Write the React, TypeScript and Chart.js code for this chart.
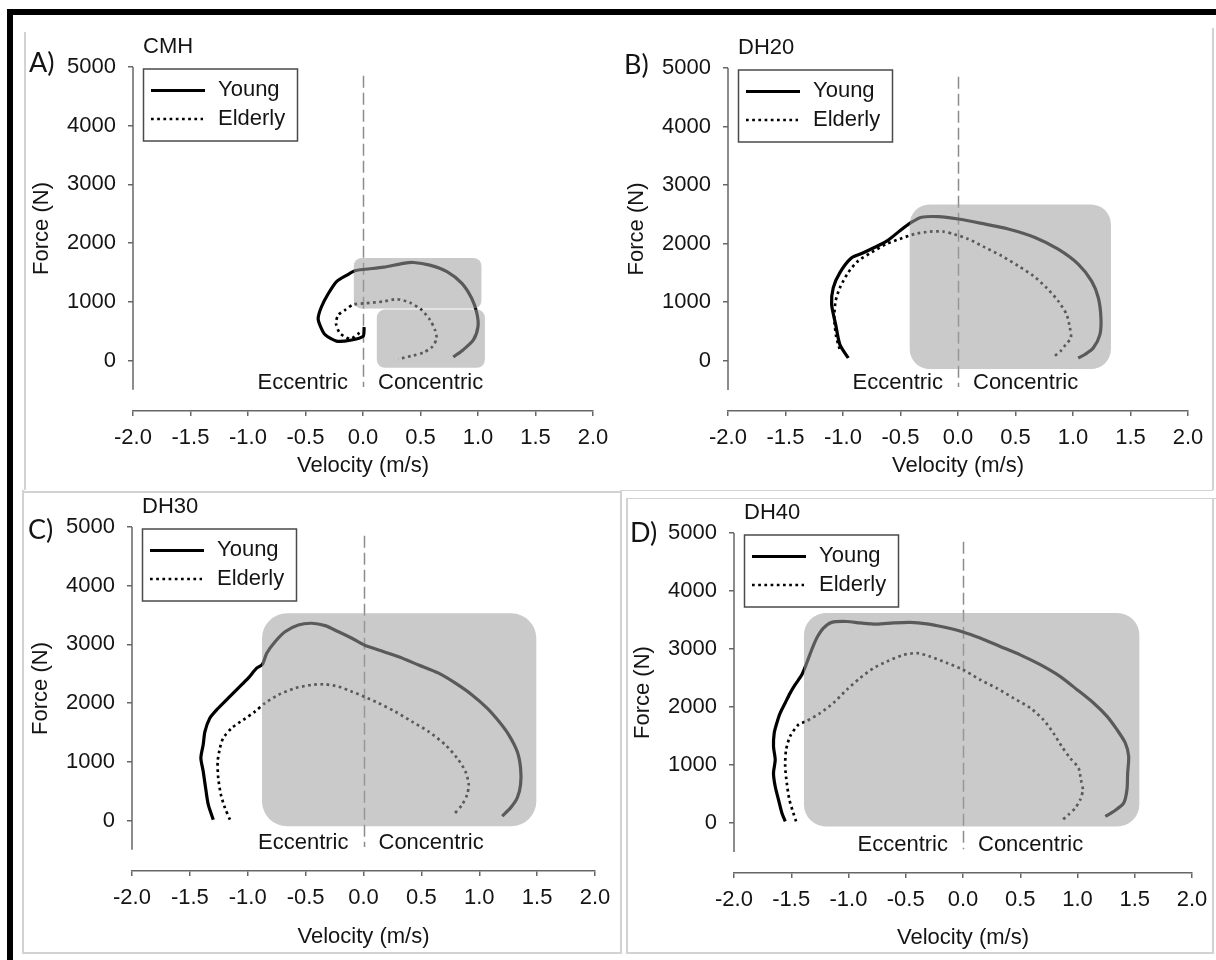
import React, { useEffect, useRef } from "react";
import { Chart, registerables } from "chart.js";

Chart.register(...registerables);

type Pt = { x: number; y: number };

// ---------- axes / labels ----------
const X_TICKS = [-2, -1.5, -1, -0.5, 0, 0.5, 1, 1.5, 2];
const Y_TICKS = [0, 1000, 2000, 3000, 4000, 5000];
const X_MIN = -2;
const X_MAX = 2;
const Y_MIN = -860;
const Y_MAX = 5000;
const Y_AXIS_LINE = [-500, 5000];
const ZERO_LINE = [-450, 4850];

const PANEL_LETTERS = ["A)", "B)", "C)", "D)"];
const PANEL_TITLES = ["CMH", "DH20", "DH30", "DH40"];
const SERIES_NAMES = ["Young", "Elderly"];
const PHASE_LABELS = ["Eccentric", "Concentric"];
const X_TITLE = "Velocity (m/s)";
const Y_TITLE = "Force (N)";

// ---------- data: velocity (m/s) / force (N) ----------
const CMH_YOUNG_V = [0.01, 0.0, -0.11, -0.23, -0.33, -0.37, -0.39, -0.36, -0.3, -0.23, -0.14, -0.07, 0.02, 0.18, 0.35, 0.44, 0.58, 0.73, 0.86, 0.945, 0.99, 1.0, 0.96, 0.87, 0.785];
const CMH_YOUNG_F = [570, 410, 345, 330, 440, 580, 720, 920, 1145, 1345, 1455, 1530, 1555, 1590, 1655, 1670, 1625, 1515, 1315, 1060, 805, 580, 350, 180, 60];
const CMH_ELDERLY_V = [-0.03, -0.11, -0.2, -0.235, -0.215, -0.157, -0.084, 0.017, 0.177, 0.293, 0.409, 0.51, 0.583, 0.626, 0.64, 0.606, 0.524, 0.437, 0.307];
const CMH_ELDERLY_F = [470, 370, 465, 635, 775, 860, 955, 975, 1005, 1045, 985, 860, 690, 520, 380, 240, 135, 85, 25];

const DH20_YOUNG_V = [-0.954, -1.027, -1.064, -1.099, -1.085, -1.027, -0.93, -0.838, -0.708, -0.607, -0.505, -0.403, -0.317, -0.172, 0.002, 0.205, 0.437, 0.669, 0.871, 1.045, 1.162, 1.22, 1.243, 1.234, 1.176, 1.103, 1.045];
const DH20_YOUNG_F = [45, 275, 620, 960, 1245, 1505, 1750, 1830, 1950, 2060, 2220, 2365, 2450, 2460, 2420, 2345, 2250, 2105, 1905, 1650, 1360, 1075, 730, 445, 215, 105, 45];
const DH20_ELDERLY_V = [-1.03, -1.06, -1.076, -1.064, -1.027, -0.955, -0.868, -0.752, -0.621, -0.505, -0.375, -0.245, -0.129, -0.027, 0.089, 0.234, 0.379, 0.523, 0.654, 0.77, 0.871, 0.944, 0.973, 0.982, 0.936, 0.895, 0.837];
const DH20_ELDERLY_F = [200, 420, 730, 1020, 1245, 1505, 1705, 1850, 1995, 2080, 2165, 2205, 2205, 2155, 2080, 1935, 1790, 1620, 1450, 1245, 1020, 790, 560, 390, 275, 170, 75];

const DH30_YOUNG_V = [-1.298, -1.341, -1.364, -1.385, -1.405, -1.385, -1.37, -1.327, -1.262, -1.169, -1.082, -0.996, -0.923, -0.874, -0.836, -0.764, -0.678, -0.563, -0.447, -0.332, -0.216, -0.1, 0.006, 0.13, 0.303, 0.476, 0.649, 0.794, 0.938, 1.068, 1.169, 1.255, 1.328, 1.357, 1.357, 1.328, 1.27, 1.198];
const DH30_YOUNG_F = [15, 270, 555, 840, 1065, 1290, 1515, 1745, 1900, 2085, 2255, 2425, 2595, 2660, 2850, 3045, 3215, 3330, 3360, 3320, 3215, 3105, 2990, 2905, 2790, 2650, 2510, 2340, 2140, 1915, 1690, 1460, 1175, 895, 610, 385, 215, 75];
const DH30_ELDERLY_V = [-1.154, -1.197, -1.232, -1.255, -1.26, -1.24, -1.212, -1.139, -1.039, -0.938, -0.851, -0.736, -0.591, -0.447, -0.332, -0.216, -0.1, 0.006, 0.13, 0.274, 0.419, 0.563, 0.707, 0.808, 0.88, 0.909, 0.895, 0.852, 0.779];
const DH30_ELDERLY_F = [15, 215, 440, 725, 1005, 1235, 1405, 1575, 1715, 1855, 2000, 2140, 2255, 2310, 2320, 2280, 2195, 2110, 2000, 1855, 1685, 1515, 1290, 1065, 840, 610, 440, 270, 100];

const DH40_YOUNG_V = [-1.552, -1.581, -1.611, -1.64, -1.655, -1.64, -1.655, -1.649, -1.626, -1.597, -1.553, -1.51, -1.466, -1.408, -1.365, -1.321, -1.277, -1.219, -1.146, -1.015, -0.899, -0.753, -0.608, -0.462, -0.316, -0.17, 0.0, 0.15, 0.325, 0.5, 0.675, 0.85, 0.996, 1.14, 1.258, 1.345, 1.418, 1.447, 1.438, 1.432, 1.403, 1.315, 1.243];
const DH40_YOUNG_F = [30, 170, 400, 630, 860, 1090, 1320, 1550, 1725, 1895, 2070, 2240, 2385, 2555, 2760, 2990, 3190, 3360, 3460, 3475, 3450, 3430, 3450, 3460, 3435, 3380, 3295, 3190, 3045, 2900, 2730, 2525, 2300, 2070, 1840, 1610, 1380, 1150, 860, 575, 345, 200, 115];
const DH40_ELDERLY_V = [-1.458, -1.481, -1.516, -1.539, -1.553, -1.545, -1.51, -1.44, -1.365, -1.248, -1.132, -1.015, -0.899, -0.783, -0.665, -0.52, -0.403, -0.287, -0.141, 0.0, 0.15, 0.295, 0.441, 0.587, 0.703, 0.79, 0.863, 0.936, 1.009, 1.03, 1.047, 1.023, 0.98, 0.921, 0.863];
const DH40_ELDERLY_F = [30, 170, 400, 690, 975, 1265, 1495, 1690, 1760, 1895, 2070, 2300, 2500, 2670, 2785, 2900, 2930, 2870, 2760, 2645, 2470, 2325, 2155, 1985, 1780, 1550, 1320, 1120, 950, 745, 575, 400, 260, 145, 45];

// highlighted regions: [vMin, vMax, fMin, fMax]
const CMH_SHADES = [[-0.08, 1.03, 885, 1747], [0.12, 1.06, -124, 868]];
const DH20_SHADES = [[-0.42, 1.33, -144, 2668]];
const DH30_SHADES = [[-0.877, 1.493, -97, 3529]];
const DH40_SHADES = [[-1.389, 1.54, -59, 3621]];

// ---------- styles ----------
const FONT = "'Liberation Sans', Arial, sans-serif";
const LETTER_FONT = "Lato, 'Open Sans', sans-serif";
const TEXT = "#141414";
const AXIS = "#666666";
const SHADE = "rgba(160,160,160,0.56)";
const FRAME = "#d2d2d2";
const FS = 22;

const Y_AXIS_W = 120;
const PAD_TOP = 40;
const PAD_RIGHT = 30;
const X_AXIS_H = 80;

const toPts = (v: number[], f: number[]): Pt[] => v.map((x, i) => ({ x, y: f[i] }));

type PanelCfg = {
  letter: string;
  title: string;
  young: Pt[];
  elderly: Pt[];
  shades: number[][];
  radius: number;
  L: number;
  T: number;
  W: number;
  H: number;
  letterDy: number;
  xTitleGap: number;
};

const PANELS: PanelCfg[] = [
  { letter: PANEL_LETTERS[0], title: PANEL_TITLES[0], young: toPts(CMH_YOUNG_V, CMH_YOUNG_F), elderly: toPts(CMH_ELDERLY_V, CMH_ELDERLY_F), shades: CMH_SHADES, radius: 8, L: 133, T: 67, W: 460, H: 344, letterDy: -4, xTitleGap: 55 },
  { letter: PANEL_LETTERS[1], title: PANEL_TITLES[1], young: toPts(DH20_YOUNG_V, DH20_YOUNG_F), elderly: toPts(DH20_ELDERLY_V, DH20_ELDERLY_F), shades: DH20_SHADES, radius: 20, L: 728, T: 68, W: 460, H: 343, letterDy: -3, xTitleGap: 55 },
  { letter: PANEL_LETTERS[2], title: PANEL_TITLES[2], young: toPts(DH30_YOUNG_V, DH30_YOUNG_F), elderly: toPts(DH30_ELDERLY_V, DH30_ELDERLY_F), shades: DH30_SHADES, radius: 25, L: 132, T: 527, W: 463, H: 344, letterDy: 3, xTitleGap: 66 },
  { letter: PANEL_LETTERS[3], title: PANEL_TITLES[3], young: toPts(DH40_YOUNG_V, DH40_YOUNG_F), elderly: toPts(DH40_ELDERLY_V, DH40_ELDERLY_F), shades: DH40_SHADES, radius: 22, L: 734, T: 533, W: 458, H: 340, letterDy: 0, xTitleGap: 65 },
];

const ELDERLY_DASH = [2.7, 3.5];

function makeDecor(cfg: PanelCfg) {
  return {
    id: "panelDecor",
    beforeDatasetsDraw(chart: any) {
      const { ctx, scales } = chart;
      const xs = scales.x;
      const ys = scales.y;
      ctx.save();
      ctx.strokeStyle = "#8c8c8c";
      ctx.lineWidth = 1.5;
      ctx.setLineDash([12, 5]);
      const x0 = Math.round(xs.getPixelForValue(0)) + 0.5;
      ctx.beginPath();
      ctx.moveTo(x0, ys.getPixelForValue(ZERO_LINE[1]));
      ctx.lineTo(x0, ys.getPixelForValue(ZERO_LINE[0]));
      ctx.stroke();
      ctx.restore();
    },
    afterDatasetsDraw(chart: any) {
      const { ctx, scales } = chart;
      const xs = scales.x;
      const ys = scales.y;
      ctx.save();
      ctx.fillStyle = SHADE;
      cfg.shades.forEach((s) => {
        const x0 = xs.getPixelForValue(s[0]);
        const x1 = xs.getPixelForValue(s[1]);
        const yTop = ys.getPixelForValue(s[3]);
        const yBot = ys.getPixelForValue(s[2]);
        ctx.beginPath();
        ctx.roundRect(x0, yTop, x1 - x0, yBot - yTop, cfg.radius);
        ctx.fill();
      });
      ctx.restore();
    },
    afterDraw(chart: any) {
      const { ctx, scales, chartArea } = chart;
      const xs = scales.x;
      const ys = scales.y;
      const L = chartArea.left;
      const T = chartArea.top;
      ctx.save();
      // y axis line
      ctx.strokeStyle = AXIS;
      ctx.lineWidth = 1.5;
      ctx.beginPath();
      ctx.moveTo(L, ys.getPixelForValue(Y_AXIS_LINE[1]));
      ctx.lineTo(L, ys.getPixelForValue(Y_AXIS_LINE[0]));
      ctx.stroke();

      // phase labels
      const xZero = xs.getPixelForValue(0);
      const yLab = ys.getPixelForValue(0) + 22;
      ctx.fillStyle = TEXT;
      ctx.font = `${FS}px ${FONT}`;
      ctx.textBaseline = "middle";
      ctx.textAlign = "right";
      ctx.fillText(PHASE_LABELS[0], xZero - 15, yLab);
      ctx.textAlign = "left";
      ctx.fillText(PHASE_LABELS[1], xZero + 15, yLab);

      // y title
      const yMid = (ys.getPixelForValue(Y_AXIS_LINE[0]) + ys.getPixelForValue(Y_AXIS_LINE[1])) / 2;
      ctx.save();
      ctx.translate(L - 91, yMid);
      ctx.rotate(-Math.PI / 2);
      ctx.textAlign = "center";
      ctx.fillText(Y_TITLE, 0, 0);
      ctx.restore();

      // panel title & letter
      ctx.textAlign = "left";
      ctx.font = `${FS}px ${FONT}`;
      ctx.fillText(cfg.title, L + 10, T - 20);
      ctx.font = `27px ${LETTER_FONT}`;
      ctx.fillText(cfg.letter, L - 104, T + cfg.letterDy);

      // legend
      const bx = L + 10.5;
      const by = T + 2;
      ctx.fillStyle = "#ffffff";
      ctx.fillRect(bx, by, 154, 72);
      ctx.strokeStyle = "#4a4a4a";
      ctx.lineWidth = 1.5;
      ctx.strokeRect(bx, by, 154, 72);
      ctx.strokeStyle = "#000000";
      ctx.lineWidth = 3;
      ctx.beginPath();
      ctx.moveTo(L + 18, T + 23.5);
      ctx.lineTo(L + 72, T + 23.5);
      ctx.stroke();
      ctx.lineWidth = 2.7;
      ctx.setLineDash(ELDERLY_DASH);
      ctx.beginPath();
      ctx.moveTo(L + 18, T + 52);
      ctx.lineTo(L + 70, T + 52);
      ctx.stroke();
      ctx.setLineDash([]);
      ctx.fillStyle = TEXT;
      ctx.font = `${FS}px ${FONT}`;
      ctx.fillText(SERIES_NAMES[0], L + 85, T + 23);
      ctx.fillText(SERIES_NAMES[1], L + 85, T + 52);
      ctx.restore();
    },
  };
}

function Panel({ cfg }: { cfg: PanelCfg }) {
  const ref = useRef<HTMLCanvasElement>(null);
  const cw = Y_AXIS_W + cfg.W + PAD_RIGHT;
  const ch = PAD_TOP + cfg.H + X_AXIS_H;

  useEffect(() => {
    const canvas = ref.current;
    if (!canvas) return;
    const tickFont = { family: FONT, size: FS };
    const chart = new Chart(canvas, {
      type: "scatter",
      data: {
        datasets: [
          {
            label: SERIES_NAMES[0],
            data: cfg.young,
            showLine: true,
            borderColor: "#000000",
            backgroundColor: "#000000",
            borderWidth: 3.2,
            pointRadius: 0,
            tension: 0.25,
            borderJoinStyle: "round",
          },
          {
            label: SERIES_NAMES[1],
            data: cfg.elderly,
            showLine: true,
            borderColor: "#000000",
            backgroundColor: "#000000",
            borderWidth: 2.7,
            borderDash: ELDERLY_DASH,
            borderCapStyle: "butt",
            pointRadius: 0,
            tension: 0.25,
          },
        ],
      } as any,
      options: {
        animation: false,
        responsive: false,
        maintainAspectRatio: false,
        events: [],
        layout: { padding: { left: 0, top: PAD_TOP, right: PAD_RIGHT, bottom: 0 } },
        plugins: { legend: { display: false }, tooltip: { enabled: false }, title: { display: false } },
        scales: {
          x: {
            type: "linear",
            min: X_MIN,
            max: X_MAX,
            afterBuildTicks: (s: any) => {
              s.ticks = X_TICKS.map((v) => ({ value: v }));
            },
            afterFit: (s: any) => {
              s.height = X_AXIS_H;
            },
            grid: { display: true, drawOnChartArea: false, drawTicks: true, tickLength: 5, color: AXIS, lineWidth: 1.5 },
            border: { display: true, color: AXIS, width: 1.5 },
            ticks: {
              color: TEXT,
              font: tickFont,
              padding: 9,
              maxRotation: 0,
              autoSkip: false,
              callback: (v: any) => Number(v).toFixed(1),
            },
            title: {
              display: true,
              text: X_TITLE,
              color: TEXT,
              font: tickFont,
              padding: { top: 0, bottom: X_AXIS_H - cfg.xTitleGap - FS * 0.6 },
            },
          },
          y: {
            type: "linear",
            min: Y_MIN,
            max: Y_MAX,
            afterBuildTicks: (s: any) => {
              s.ticks = Y_TICKS.map((v) => ({ value: v }));
            },
            afterFit: (s: any) => {
              s.width = Y_AXIS_W;
            },
            grid: { display: true, drawOnChartArea: false, drawTicks: true, tickLength: 5, color: AXIS, lineWidth: 1.5 },
            border: { display: false },
            ticks: {
              color: TEXT,
              font: tickFont,
              padding: 12,
              autoSkip: false,
              callback: (v: any) => String(v),
            },
          },
        },
      } as any,
      plugins: [makeDecor(cfg)],
    });
    return () => chart.destroy();
  }, [cfg]);

  return (
    <canvas
      ref={ref}
      width={cw}
      height={ch}
      style={{ position: "absolute", left: cfg.L - Y_AXIS_W, top: cfg.T - PAD_TOP, width: cw, height: ch }}
    />
  );
}

const line = (left: number, top: number, width: number, height: number, color: string) => (
  <div style={{ position: "absolute", left, top, width, height, background: color }} />
);

export default function App() {
  return (
    <div style={{ position: "absolute", left: 0, top: 0, width: 1216, height: 960, background: "#ffffff", overflow: "hidden" }}>
      {/* light panel frames */}
      {line(24, 32, 1.5, 458, FRAME)}
      {line(22, 490, 1.5, 464, FRAME)}
      {line(22, 491, 599, 1.5, FRAME)}
      {line(22, 952, 599, 1.5, FRAME)}
      {line(620, 490, 1.5, 464, FRAME)}
      {line(620, 489.5, 593, 1.5, FRAME)}
      {line(1212, 28, 1.5, 462, FRAME)}
      {line(626, 497.5, 590, 1.5, FRAME)}
      {line(626, 497.5, 1.5, 456, FRAME)}
      {line(626, 952, 587, 1.5, FRAME)}
      {line(1212, 497.5, 1.5, 456, FRAME)}
      {PANELS.map((p, i) => (
        <Panel key={i} cfg={p} />
      ))}
      {/* black border */}
      {line(7, 9, 1209, 6, "#000000")}
      {line(7, 9, 6, 951, "#000000")}
    </div>
  );
}
